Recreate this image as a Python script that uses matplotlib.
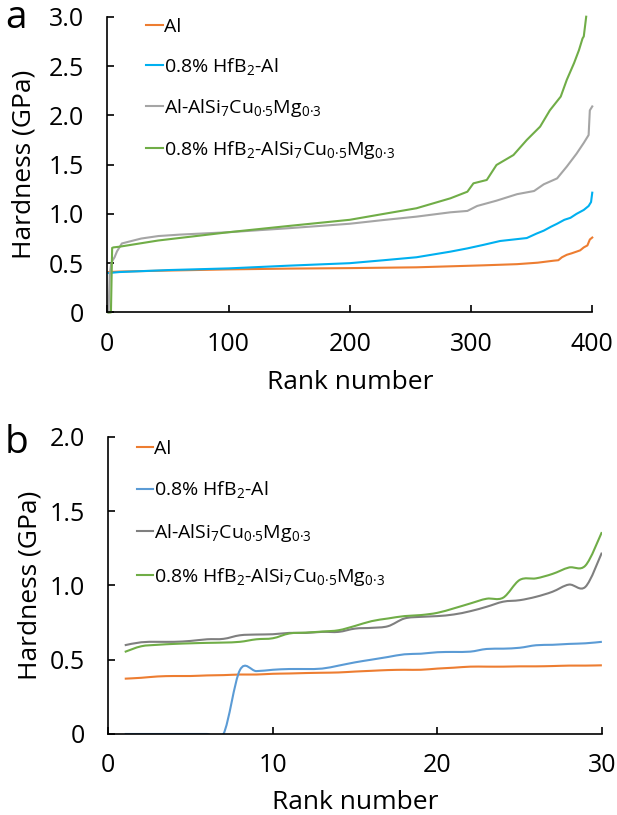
import matplotlib
matplotlib.use("Agg")
import matplotlib.pyplot as plt
from matplotlib.path import Path
from matplotlib.patches import PathPatch
import numpy as np

plt.rcParams['font.family'] = ['Open Sans', 'DejaVu Sans']
plt.rcParams['mathtext.fontset'] = 'custom'
plt.rcParams['mathtext.rm'] = 'Open Sans'
plt.rcParams['mathtext.it'] = 'Open Sans'
plt.rcParams['mathtext.default'] = 'rm'

labels = ['Al', '0.8% HfB$_2$-Al', 'Al-AlSi$_7$Cu$_{0·5}$Mg$_{0·3}$',
          '0.8% HfB$_2$-AlSi$_7$Cu$_{0·5}$Mg$_{0·3}$']

# panel a: hardness sorted by rank (400 indents)
a_al_rank = [1, 10, 50, 100, 150, 200, 255, 310, 338, 355, 368, 372, 375, 379, 383,
             387, 390, 393, 396, 398, 400]
a_al_val = [0.41, 0.415, 0.425, 0.437, 0.445, 0.45, 0.458, 0.478, 0.49, 0.505, 0.525,
            0.53, 0.56, 0.585, 0.60, 0.617, 0.63, 0.66, 0.68, 0.74, 0.76]
a_hf_rank = [1, 10, 50, 100, 150, 200, 228, 255, 283, 297, 310, 324, 335, 346, 354, 360,
             366, 371, 377, 382, 387, 393, 397, 399, 400]
a_hf_val = [0.40, 0.41, 0.43, 0.447, 0.475, 0.50, 0.53, 0.56, 0.617, 0.65, 0.685, 0.725,
            0.74, 0.755, 0.80, 0.83, 0.87, 0.90, 0.94, 0.96, 1.0, 1.04, 1.08, 1.12, 1.215]
a_alsi_rank = [1, 2, 3, 4, 6, 8, 10, 12, 20, 28, 42, 60, 100, 150, 200, 228, 255, 283,
               297, 305, 321, 338, 352, 360, 371, 379, 387, 393, 397, 398, 400]
a_alsi_val = [0.0, 0.38, 0.48, 0.52, 0.56, 0.62, 0.66, 0.70, 0.725, 0.75, 0.775, 0.79,
              0.814, 0.855, 0.90, 0.938, 0.972, 1.016, 1.03, 1.08, 1.134, 1.2, 1.232,
              1.30, 1.36, 1.48, 1.61, 1.72, 1.80, 2.05, 2.09]
a_hfalsi_rank = [1, 3, 4, 5, 10, 42, 100, 150, 200, 228, 255, 283, 297, 302, 313, 321,
                 335, 346, 357, 365, 374, 379, 385, 389, 392, 393, 395]
a_hfalsi_val = [0.0, 0.0, 0.655, 0.66, 0.667, 0.73, 0.814, 0.878, 0.94, 1.0, 1.057, 1.158,
                1.225, 1.31, 1.344, 1.496, 1.597, 1.75, 1.885, 2.05, 2.19, 2.36, 2.53,
                2.66, 2.78, 2.80, 3.0]

# panel b: first 30 ranks
b_rank = list(range(1, 31))
b_al = [0.372, 0.378, 0.387, 0.39, 0.39, 0.394, 0.396, 0.40, 0.40, 0.405, 0.407, 0.41,
        0.412, 0.414, 0.42, 0.425, 0.43, 0.432, 0.432, 0.44, 0.446, 0.453, 0.453, 0.453,
        0.455, 0.455, 0.457, 0.46, 0.46, 0.462]
b_hf = [0, 0, 0, 0, 0, 0, 0, 0.43, 0.423, 0.432, 0.437, 0.437, 0.44, 0.46, 0.482, 0.50,
        0.518, 0.536, 0.54, 0.55, 0.552, 0.554, 0.572, 0.574, 0.58, 0.597, 0.60, 0.606,
        0.61, 0.62]
b_alsi = [0.597, 0.617, 0.62, 0.62, 0.626, 0.637, 0.64, 0.664, 0.669, 0.671, 0.68, 0.68,
          0.687, 0.687, 0.709, 0.714, 0.725, 0.777, 0.788, 0.793, 0.804, 0.826, 0.856,
          0.89, 0.90, 0.923, 0.957, 1.005, 0.99, 1.22]
b_hfalsi = [0.552, 0.59, 0.60, 0.606, 0.61, 0.613, 0.615, 0.62, 0.637, 0.644, 0.676,
            0.682, 0.689, 0.698, 0.727, 0.759, 0.777, 0.793, 0.80, 0.815, 0.845, 0.878,
            0.91, 0.917, 1.036, 1.047, 1.077, 1.12, 1.133, 1.358]

cols_a = ['#ED7D31', '#00B0F0', '#A5A5A5', '#70AD47']
cols_b = ['#ED7D31', '#5B9BD5', '#7F7F7F', '#70AD47']


def smooth_path(x, y):
    # Excel-style smoothed line: cubic Bezier through every point
    x = np.asarray(x, float)
    y = np.asarray(y, float)
    n = len(x)
    verts = [(x[0], y[0])]
    codes = [Path.MOVETO]
    for i in range(n - 1):
        i0 = max(i - 1, 0)
        i3 = min(i + 2, n - 1)
        c1 = (x[i] + (x[i + 1] - x[i0]) / 6, y[i] + (y[i + 1] - y[i0]) / 6)
        c2 = (x[i + 1] - (x[i3] - x[i]) / 6, y[i + 1] - (y[i3] - y[i]) / 6)
        verts += [c1, c2, (x[i + 1], y[i + 1])]
        codes += [Path.CURVE4] * 3
    return Path(verts, codes)


def style_axes(ax, xmax, ymax, xticks, yticks, ylabs):
    ax.set_xlim(0, xmax)
    ax.set_ylim(0, ymax)
    ax.set_xticks(xticks)
    ax.set_yticks(yticks)
    ax.set_yticklabels(ylabs)
    for s in ['top', 'right']:
        ax.spines[s].set_visible(False)
    for s in ['left', 'bottom']:
        ax.spines[s].set_linewidth(1.2)
    ax.tick_params(direction='in', length=5, width=1.2, labelsize=18)
    ax.tick_params(axis='y', pad=17)
    ax.tick_params(axis='x', pad=14)
    ax.set_xlabel('Rank number', fontsize=19)
    ax.set_ylabel('Hardness (GPa)', fontsize=19)


fig = plt.figure(figsize=(6.17, 8.15), dpi=100)

ax1 = fig.add_axes([0.1739, 0.6166, 0.786, 0.3629])
ranks_a = [a_al_rank, a_hf_rank, a_alsi_rank, a_hfalsi_rank]
vals_a = [a_al_val, a_hf_val, a_alsi_val, a_hfalsi_val]
for r, v, c, lab in zip(ranks_a, vals_a, cols_a, labels):
    ax1.plot(r, v, color=c, lw=1.5, label=lab, clip_on=False)
style_axes(ax1, 400, 3.0, [0, 100, 200, 300, 400], np.arange(0, 3.01, 0.5),
           ['0', '0.5', '1.0', '1.5', '2.0', '2.5', '3.0'])
ax1.xaxis.set_label_coords(0.5, -0.195)
ax1.yaxis.set_label_coords(-0.147, 0.5)
ax1.legend(loc='upper left', bbox_to_anchor=(0.08, 0.995), frameon=False, fontsize=14,
           borderpad=0, borderaxespad=0, handlelength=0.85, handletextpad=0.05,
           labelspacing=1.02)

ax2 = fig.add_axes([0.1755, 0.0994, 0.800, 0.3648])
series_b = [b_al, b_hf, b_alsi, b_hfalsi]
for v, c, lab in zip(series_b, cols_b, labels):
    ax2.add_patch(PathPatch(smooth_path(b_rank, v), facecolor='none', edgecolor=c,
                            lw=1.5))
    ax2.plot([], [], color=c, lw=1.5, label=lab)
style_axes(ax2, 30, 2.0, [0, 10, 20, 30], np.arange(0, 2.01, 0.5),
           ['0', '0.5', '1.0', '1.5', '2.0'])
ax2.xaxis.set_label_coords(0.5, -0.19)
ax2.yaxis.set_label_coords(-0.134, 0.5)
ax2.legend(loc='upper left', bbox_to_anchor=(0.0575, 0.99), frameon=False, fontsize=14,
           borderpad=0, borderaxespad=0, handlelength=0.85, handletextpad=0.05,
           labelspacing=1.12)

fig.text(0.008, 0.966, 'a', fontsize=28, va='baseline')
fig.text(0.008, 0.444, 'b', fontsize=28, va='baseline')

fig.savefig('out.png', dpi=100)
